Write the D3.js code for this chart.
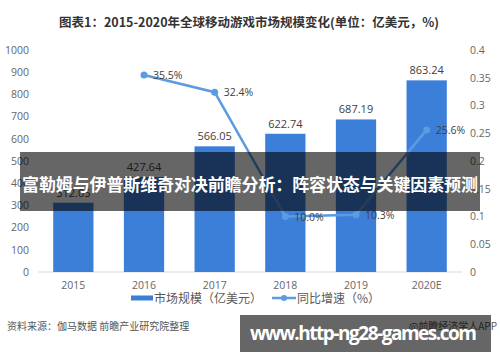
<!DOCTYPE html>
<html>
<head>
<meta charset="utf-8">
<script src="https://cdn.jsdelivr.net/npm/d3@7"></script>
<style>
  body { margin: 0; background: #fff; }
  svg { display: block; font-family: "Microsoft YaHei", "Noto Sans CJK SC", sans-serif; }
</style>
</head>
<body>
<div id="chart"></div>
<script>
const years = ["2015", "2016", "2017", "2018", "2019", "2020E"];
const marketSize = [312.05, 427.64, 566.05, 622.74, 687.19, 863.24];
const growth = [null, 0.355, 0.324, 0.100, 0.103, 0.256];
const growthLabels = ["", "35.5%", "32.4%", "10.0%", "10.3%", "25.6%"];
const leftTicks = [0, 100, 200, 300, 400, 500, 600, 700, 800, 900, 1000];
const rightTicks = [0, 0.05, 0.1, 0.15, 0.2, 0.25, 0.3, 0.35, 0.4];

const width = 500, height = 362;
const plot = {left: 38, right: 462, top: 50, bottom: 272};

const svg = d3.select("#chart").append("svg")
    .attr("width", width)
    .attr("height", height);

svg.append("text")
    .attr("x", 249)
    .attr("y", 27)
    .attr("text-anchor", "middle")
    .style("font-size", "12.5px")
    .style("font-weight", "bold")
    .style("fill", "#333")
    .text("图表1：2015-2020年全球移动游戏市场规模变化(单位：亿美元，%)");

const x = d3.scaleBand()
    .domain(years)
    .range([plot.left, plot.right])
    .paddingInner(0.43)
    .paddingOuter(0.215);

const y = d3.scaleLinear()
    .domain([0, 1000])
    .range([plot.bottom, plot.top]);

const y2 = d3.scaleLinear()
    .domain([0, 0.4])
    .range([plot.bottom, plot.top]);

// left axis
svg.append("g")
    .attr("transform", "translate(31,0)")
    .call(d3.axisLeft(y).tickValues(leftTicks).tickSize(0).tickPadding(2).tickFormat(d => String(d)))
    .call(g => g.select(".domain").remove())
    .selectAll("text")
    .style("font-size", "10.5px")
    .style("fill", "#666")
    .style("font-family", "\"Open Sans\", sans-serif");

// right axis
svg.append("g")
    .attr("transform", "translate(468,0)")
    .call(d3.axisRight(y2).tickValues(rightTicks).tickSize(0).tickPadding(2)
        .tickFormat(d => String(+d.toFixed(2))))
    .call(g => g.select(".domain").remove())
    .selectAll("text")
    .style("font-size", "10.5px")
    .style("fill", "#666")
    .style("font-family", "\"Open Sans\", sans-serif");

// baseline
svg.append("line")
    .attr("x1", plot.left)
    .attr("x2", plot.right)
    .attr("y1", y(0))
    .attr("y2", y(0))
    .style("stroke", "#d9d9d9")
    .style("stroke-width", 1);

// x axis
svg.append("g")
    .attr("transform", `translate(0,${plot.bottom + 6})`)
    .call(d3.axisBottom(x).tickSize(0).tickPadding(4))
    .call(g => g.select(".domain").remove())
    .selectAll("text")
    .style("font-size", "10.5px")
    .style("fill", "#666")
    .style("font-family", "\"Open Sans\", sans-serif");

const data = years.map((yr, i) => ({year: yr, value: marketSize[i], g: growth[i], gl: growthLabels[i]}));

svg.selectAll(".bar")
    .data(data)
    .enter()
    .append("rect")
    .attr("class", "bar")
    .attr("x", d => x(d.year))
    .attr("y", d => y(d.value))
    .attr("width", x.bandwidth())
    .attr("height", d => y(0) - y(d.value))
    .attr("fill", "#3c7fd9");

svg.selectAll(".bar-label")
    .data(data)
    .enter()
    .append("text")
    .attr("class", "bar-label")
    .attr("x", d => x(d.year) + x.bandwidth() / 2)
    .attr("y", d => y(d.value) - 6)
    .attr("text-anchor", "middle")
    .style("font-size", "11px")
    .style("fill", "#404040")
    .style("font-family", "\"Open Sans\", sans-serif")
    .text(d => d.value.toFixed(2));

const lineData = data.filter(d => d.g !== null);
const cx = d => x(d.year) + x.bandwidth() / 2;

svg.append("path")
    .datum(lineData)
    .attr("d", d3.line().x(cx).y(d => y2(d.g)))
    .style("fill", "none")
    .style("stroke", "#5b9be0")
    .style("stroke-width", 2.5);

svg.selectAll(".dot")
    .data(lineData)
    .enter()
    .append("circle")
    .attr("cx", cx)
    .attr("cy", d => y2(d.g))
    .attr("r", 3.5)
    .attr("fill", "#5b9be0");

svg.selectAll(".g-label")
    .data(lineData)
    .enter()
    .append("text")
    .attr("x", d => cx(d) + 9)
    .attr("y", d => y2(d.g) + 4)
    .style("font-size", "10.5px")
    .style("fill", "#404040")
    .style("font-family", "\"Open Sans\", sans-serif")
    .text(d => d.gl);

// legend
const legend = svg.append("g").attr("transform", "translate(0,298)");
legend.append("rect")
    .attr("x", 131).attr("y", -2.5)
    .attr("width", 22).attr("height", 5)
    .attr("fill", "#3c7fd9");
legend.append("text")
    .attr("x", 154).attr("y", 4.5)
    .style("font-size", "12px")
    .style("fill", "#595959")
    .text("市场规模（亿美元）");
legend.append("line")
    .attr("x1", 272).attr("x2", 296)
    .attr("y1", 0).attr("y2", 0)
    .style("stroke", "#5b9be0")
    .style("stroke-width", 2.5);
legend.append("circle")
    .attr("cx", 284).attr("cy", 0).attr("r", 3)
    .attr("fill", "#5b9be0");
legend.append("text")
    .attr("x", 297).attr("y", 4.5)
    .style("font-size", "12px")
    .style("fill", "#595959")
    .text("同比增速（%）");

// source
svg.append("text")
    .attr("x", 7).attr("y", 330)
    .style("font-size", "10px")
    .style("fill", "#555")
    .text("资料来源：伽马数据 前瞻产业研究院整理");
svg.append("text")
    .attr("x", 497).attr("y", 330)
    .attr("text-anchor", "end")
    .style("font-size", "10px")
    .style("fill", "#555")
    .text("@前瞻经济学人APP");

// overlay banner
svg.append("rect")
    .attr("x", 20).attr("y", 152)
    .attr("width", 460).attr("height", 59)
    .attr("fill", "rgba(0,0,0,0.6)");
svg.append("text")
    .attr("x", 250).attr("y", 191)
    .attr("text-anchor", "middle")
    .attr("textLength", 456)
    .style("font-size", "17px")
    .style("font-weight", "bold")
    .style("fill", "#fff")
    .text("富勒姆与伊普斯维奇对决前瞻分析：阵容状态与关键因素预测");

// url box
svg.append("rect")
    .attr("x", 240).attr("y", 315)
    .attr("width", 251).attr("height", 37)
    .attr("fill", "rgba(0,0,0,0.6)");
svg.append("text")
    .attr("x", 250).attr("y", 333.5)
    .attr("dy", "0.35em")
    .attr("textLength", 227)
    .style("font-size", "19px")
    .style("font-weight", "bold")
    .style("fill", "#fff")
    .style("font-family", "\"Open Sans\", sans-serif")
    .text("www.http-ng28-games.com");
</script>
</body>
</html>
